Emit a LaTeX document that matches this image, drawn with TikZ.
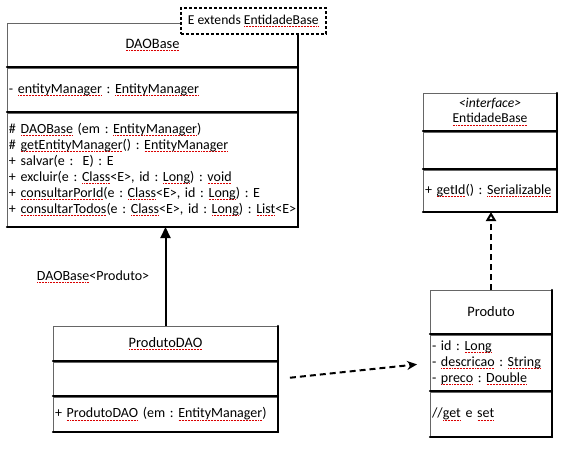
\documentclass[tikz,border=0pt]{standalone}
\usepackage{fontspec}
\setmainfont{Carlito}
\usetikzlibrary{arrows.meta,positioning}
\frenchspacing
\newsavebox\splbox
\newcommand\spl[1]{\sbox\splbox{#1}\leavevmode\rlap{\raisebox{-2.6pt}{\color{red!85!black}\hbox to\wd\splbox{\xleaders\hbox{\kern0.3pt\rule{0.9pt}{0.7pt}\kern0.3pt}\hfill}}}\usebox\splbox}
\newcommand\members[1]{\begin{tabular}{@{}l@{}}#1\end{tabular}}

\begin{document}
\begin{tikzpicture}[x=1pt, y=-1pt, font=\fontsize{14}{16}\selectfont,
  cls/.style={draw=black!60, line width=0.8pt, fill=white, outer sep=0pt, inner xsep=2pt, inner ysep=0pt, align=left, text width=#1,
    append after command={(\tikzlastnode.north east) edge[shadowline] (\tikzlastnode.south east)
                          (\tikzlastnode.south east) edge[shadowline] (\tikzlastnode.south west)}},
  shadowline/.style={draw=black, line width=2.2pt, line cap=round, -},
  clsname/.style={cls=#1, align=center, font=\fontsize{14.4}{16}\selectfont},
  gen/.style={-{Triangle[length=11pt,width=10pt]}, line width=2pt},
  real/.style={-{Triangle[open,length=9pt,width=10pt]}, line width=2pt, dash pattern=on 6pt off 4pt},
  dep/.style={-{Stealth[length=10pt,width=9pt]}, line width=2pt, dash pattern=on 6pt off 4pt}]

\useasboundingbox (0,0) rectangle (567,449);

% DAOBase
\node[clsname=287pt, minimum height=44pt, anchor=north west] at (7,23) (dao-name) {\spl{DAOBase}};
\node[cls=287pt, minimum height=44pt, below=1pt of dao-name] (dao-attr)
  {\members{- \spl{entityManager} : \spl{EntityManager}}};
\node[cls=287pt, minimum height=114pt, below=1pt of dao-attr] (dao-ops)
  {\members{\# \spl{DAOBase} (em : \spl{EntityManager})\\
   \# \spl{getEntityManager}() : \spl{EntityManager}\\
   + salvar(e : \ E) : E\\
   + excluir(e : \spl{Class}<E>, id : \spl{Long}) : \spl{void}\\
   + \spl{consultarPorId}(e : \spl{Class}<E>, id : \spl{Long}) : E\\
   + \spl{consultarTodos}(e : \spl{Class}<E>, id : \spl{Long}) : \spl{List}<E>}};
\node[draw, line width=1.6pt, dash pattern=on 3pt off 2pt, fill=white, minimum width=145pt, minimum height=26pt, anchor=north west, font=\fontsize{13.6}{15}\selectfont] at (180,7) (tmpl)
  {E extends \spl{EntidadeBase}};

% EntidadeBase
\node[clsname=130pt, minimum height=38pt, anchor=north west, font=\fontsize{13.6}{15}\selectfont] at (423,93) (ent-name)
  {\textit{<interface>}\\ \spl{EntidadeBase}};
\node[cls=130pt, minimum height=37pt, below=1pt of ent-name] (ent-attr) {};
\node[cls=130pt, minimum height=42pt, below=1pt of ent-attr] (ent-ops)
  {\members{+ \spl{getId}() : \spl{Serializable}}};

% Produto
\node[clsname=118pt, minimum height=44pt, anchor=north west] at (430,290) (prod-name) {Produto};
\node[cls=118pt, minimum height=56pt, below=1pt of prod-name] (prod-attr)
  {\members{- id : \spl{Long}\\
   - \spl{descricao} : \spl{String}\\
   - \spl{preco} : \spl{Double}}};
\node[cls=118pt, minimum height=45pt, below=1pt of prod-attr] (prod-ops)
  {\members{//\spl{get} e \spl{set}}};

% ProdutoDAO
\node[clsname=221pt, minimum height=35pt, anchor=north west] at (53,326) (pdao-name) {\spl{ProdutoDAO}};
\node[cls=221pt, minimum height=34pt, below=1pt of pdao-name] (pdao-attr) {};
\node[cls=221pt, minimum height=35pt, below=1pt of pdao-attr] (pdao-ops)
  {\members{+ \spl{ProdutoDAO} (em : \spl{EntityManager})}};

\draw[gen] (pdao-name.north) -- (pdao-name.north |- dao-ops.south)
  node[midway, left=12pt] (lbl) {\spl{DAOBase}<Produto>};
\draw[real] (prod-name.north) -- (prod-name.north |- ent-ops.south);
\draw[dep, shorten <=12pt, shorten >=13pt] (pdao-attr.east) -- (prod-attr.west);
\end{tikzpicture}
\end{document}
